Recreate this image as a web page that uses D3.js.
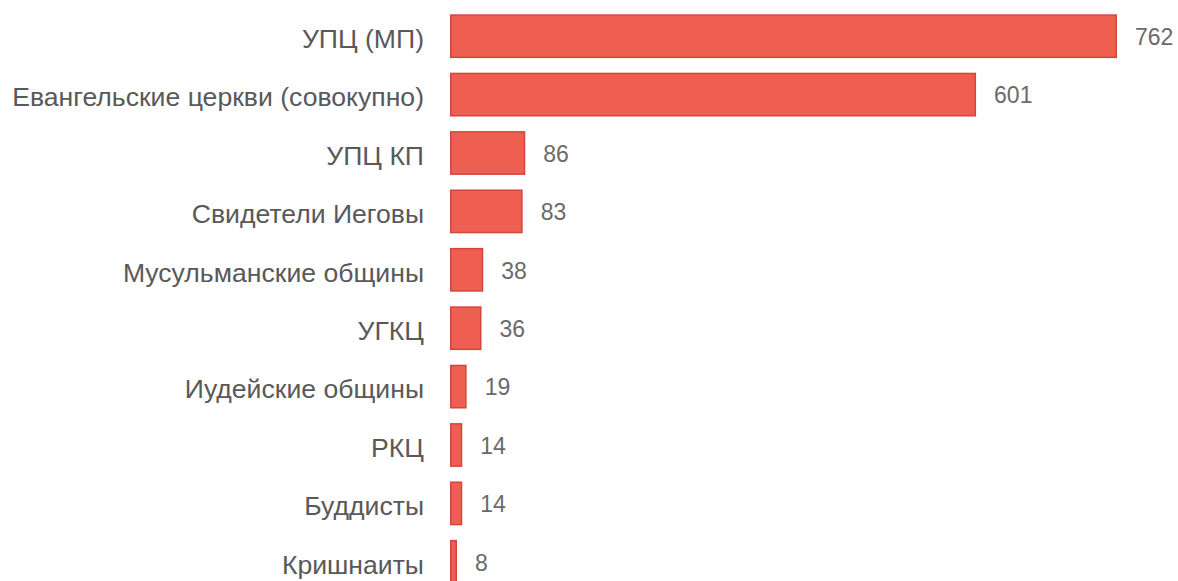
<!DOCTYPE html>
<html><head><meta charset="utf-8">
<script src="https://cdn.jsdelivr.net/npm/d3@7"></script>
<style>html,body{margin:0;padding:0;background:#fff;overflow:hidden}</style>
</head><body>
<svg id="chart" width="1178" height="581"></svg>
<script>
const categories = ["УПЦ (МП)", "Евангельские церкви (совокупно)", "УПЦ КП", "Свидетели Иеговы", "Мусульманские общины", "УГКЦ", "Иудейские общины", "РКЦ", "Буддисты", "Кришнаиты"];
const values = [762, 601, 86, 83, 38, 36, 19, 14, 14, 8];

const svg = d3.select("#chart");
const x = d3.scaleLinear().domain([0, 762]).range([450, 1117]);
const y = d3.scaleBand().domain(categories).range([7, 591]).paddingInner(0.25).paddingOuter(0.125);

svg.selectAll("rect.bar").data(categories).join("rect")
  .attr("class", "bar")
  .attr("x", x(0) + 0.75)
  .attr("y", d => y(d) + 0.75)
  .attr("width", (d, i) => Math.max(0, x(values[i]) - x(0) - 1.5))
  .attr("height", y.bandwidth() - 1.5)
  .attr("fill", "#ee5f52")
  .attr("stroke", "#d2473d")
  .attr("stroke-width", 1.5);

svg.append("g").attr("transform", `translate(${x(0) - 26},0)`)
  .call(d3.axisLeft(y).tickSize(0).tickPadding(0))
  .call(g => g.select(".domain").remove())
  .call(g => g.selectAll("text")
    .attr("dy", "0.44em")
    .attr("fill", "#595959")
    .style("font-family", "'Liberation Sans', Arial, sans-serif")
    .style("font-size", "26.6px"));

svg.selectAll("text.val").data(categories).join("text")
  .attr("class", "val")
  .attr("x", (d, i) => x(values[i]) + 18)
  .attr("y", d => y(d) + y.bandwidth() / 2)
  .attr("dy", "0.38em")
  .attr("fill", "#6a6a6a")
  .style("font-family", "'Liberation Sans', Arial, sans-serif")
  .style("font-size", "23px")
  .text((d, i) => values[i]);
</script>
</body></html>
